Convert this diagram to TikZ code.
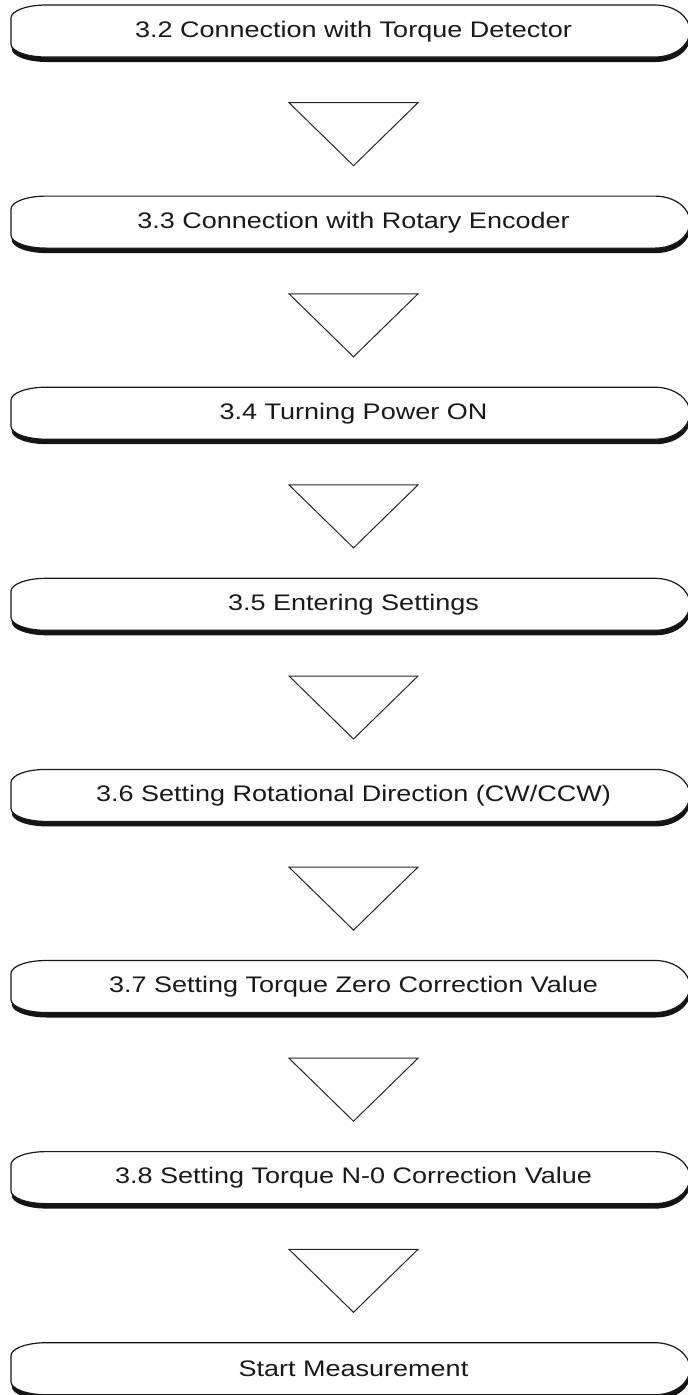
\documentclass[tikz,border=0pt]{standalone}
\usepackage{fontspec}
\setmainfont{Liberation Sans}
\usepackage{graphicx}
\usetikzlibrary{calc}

% Outline of a step box: left edge #1, top #2, right tip #3, bottom #4
\newcommand\stepboxpath[4]{%
  (#1+35,#2) -- (#3-35,#2)
  arc[start angle=90,end angle=0,x radius=35,y radius=26]
  arc[start angle=0,end angle=-90,x radius=35,y radius=26]
  -- (#1+35,#4)
  arc[start angle=270,end angle=180,x radius=35,y radius=13]
  -- (#1,#2-13)
  arc[start angle=180,end angle=90,x radius=35,y radius=13] -- cycle}
\newcommand\widetext[1]{\scalebox{1.2}[1]{#1}}

\tikzset{
  stepbox/.style={minimum width=600pt, minimum height=52pt, inner sep=0pt,
    font=\fontsize{22.5}{27}\selectfont, text=black!90},
  boxshadow/.style={fill=black!92},
  boxface/.style={draw=black!90, line width=1.2pt, fill=white},
  downmark/.style={draw=black!85, line width=1pt, line join=miter},
}

\begin{document}
\begin{tikzpicture}[x=1pt,y=1pt]
\useasboundingbox (0,0) rectangle (688,-1395);

\foreach \i/\txt in {
  0/{3.2 Connection with Torque Detector},
  1/{3.3 Connection with Rotary Encoder},
  2/{3.4 Turning Power ON},
  3/{3.5 Entering Settings},
  4/{3.6 Setting Rotational Direction (CW/CCW)},
  5/{3.7 Setting Torque Zero Correction Value},
  6/{3.8 Setting Torque N-0 Correction Value},
  7/{Start Measurement}} {
  \pgfmathsetmacro\tp{-(5+191.1*\i)}
  \pgfmathsetmacro\bt{\tp-52}
  % drop shadow, then the white box on top
  \fill[boxshadow, shift={(0.8,-5)}] \stepboxpath{11}{\tp}{690}{\bt};
  \path[boxface] \stepboxpath{11}{\tp}{690}{\bt};
  \node[stepbox] (b\i) at (353.5,\tp-26.5) {\widetext{\txt}};
}

% downward triangles between consecutive steps
\foreach \i in {0,...,6} {
  \draw[downmark] ($(b\i.south)+(-64.5,-45)$) -- ($(b\i.south)+(64.5,-45)$)
    -- ($(b\i.south)+(0,-108)$) -- cycle;
}
\end{tikzpicture}
\end{document}
